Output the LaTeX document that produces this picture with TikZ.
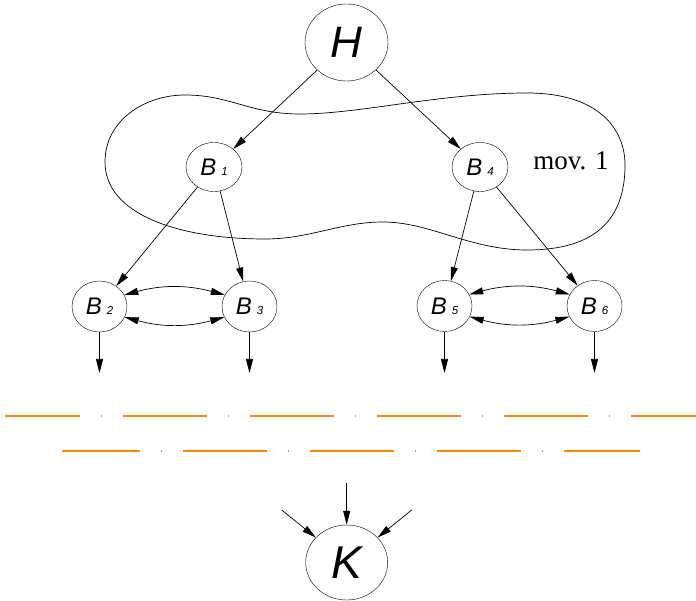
\documentclass[tikz,border=0pt]{standalone}
\usepackage{fontspec}
\setmainfont{Liberation Serif}
\setsansfont{Liberation Sans}
\usetikzlibrary{arrows.meta,shapes.geometric}
\definecolor{cutorange}{RGB}{255,136,0}
\newcommand{\blk}[1]{\sffamily\itshape\fontsize{24}{24}\selectfont B\hspace{5pt}{\fontsize{11.5}{11.5}\selectfont #1}}
\tikzset{
  tip/.style={-{Triangle[length=14pt,width=7pt]}},
  twotip/.style={{Triangle[length=14pt,width=7pt]}-{Triangle[length=14pt,width=7pt]}},
  bignode/.style={draw,ellipse,inner sep=0pt,minimum width=83pt,minimum height=77pt,
                  font=\sffamily\itshape\fontsize{44}{44}\selectfont},
  upper/.style={draw,ellipse,inner sep=0pt,minimum width=56pt,minimum height=49pt},
  lower/.style={draw,ellipse,inner sep=0pt,minimum width=55pt,minimum height=51pt},
  edge/.style={line width=0.7pt},
  cutline/.style={cutorange,line width=1.3pt,dash pattern=on 84pt off 21pt on 1pt off 21pt},
}
\begin{document}
\begin{tikzpicture}[x=1pt,y=-1pt]
\useasboundingbox (0,0) rectangle (696,601);

% region boundary
\draw[line width=0.7pt]
  (105,162) .. controls (105,120) and (145,95) .. (185,95)
  .. controls (230,95) and (250,114) .. (300,114)
  .. controls (360,114) and (440,93) .. (527,93)
  .. controls (600,93) and (625,130) .. (625,165)
  .. controls (625,220) and (595,250) .. (527,250)
  .. controls (470,250) and (430,222) .. (383,222)
  .. controls (340,222) and (310,239) .. (265,239)
  .. controls (180,239) and (105,215) .. (105,162) -- cycle;
\node[font=\fontsize{27}{27}\selectfont] (mov) at (571,161) {mov. 1};

% blocks
\node[bignode] (H) at (346.5,42.5) {H};
\node[upper] (B1) at (214,167) {\blk{1}};
\node[upper] (B4) at (480,167) {\blk{4}};
\node[lower] (B2) at (99.5,306.5) {\blk{2}};
\node[lower] (B3) at (249.5,306.5) {\blk{3}};
\node[lower] (B5) at (444.5,306) {\blk{5}};
\node[lower] (B6) at (594.5,306) {\blk{6}};
\node[bignode,minimum width=82pt,minimum height=75pt,font=\sffamily\itshape\fontsize{46}{46}\selectfont] (K) at (346.7,562.5) {K};

% tree edges
\draw[edge,tip] (H) -- (B1);
\draw[edge,tip] (H) -- (B4);
\draw[edge,tip] (B1) -- (B2);
\draw[edge,tip] (B1) -- (B3);
\draw[edge,tip] (B4) -- (B5);
\draw[edge,tip] (B4) -- (B6);

% exchanges between sibling blocks
\draw[edge,twotip] (B2.25) to[bend left=15] (B3.155);
\draw[edge,twotip] (B2.-23) to[bend right=15] (B3.-157);
\draw[edge,twotip] (B5.25) to[bend left=15] (B6.155);
\draw[edge,twotip] (B5.-23) to[bend right=15] (B6.-157);

% outgoing arrows
\coordinate (o2) at (99.5,373);
\coordinate (o3) at (249.5,373);
\coordinate (o5) at (444.5,373);
\coordinate (o6) at (594.5,373);
\draw[edge,tip] (B2) -- (o2);
\draw[edge,tip] (B3) -- (o3);
\draw[edge,tip] (B5) -- (o5);
\draw[edge,tip] (B6) -- (o6);

% cut lines
\coordinate (r1a) at (5,416);
\coordinate (r1b) at (696,416);
\coordinate (r2a) at (62,451);
\coordinate (r2b) at (640,451);
\draw[cutline,dash phase=9pt] (r1a) -- (r1b);
\draw[cutline,dash phase=6pt] (r2a) -- (r2b);

% incoming arrows
\coordinate (k1) at (281.7,510);
\coordinate (k2) at (346.7,483);
\coordinate (k3) at (411.7,510);
\draw[edge,tip] (k1) -- (K);
\draw[edge,tip] (k2) -- (K);
\draw[edge,tip] (k3) -- (K);
\end{tikzpicture}
\end{document}
